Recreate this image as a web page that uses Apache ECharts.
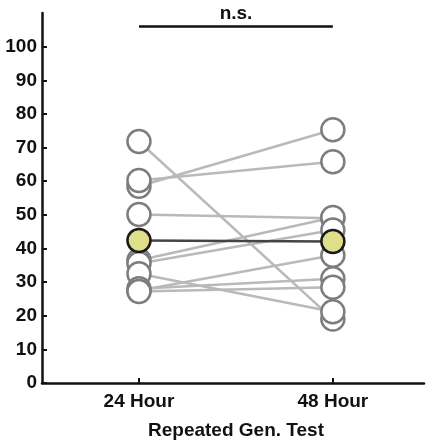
<!DOCTYPE html>
<html>
<head>
<meta charset="utf-8">
<script src="https://cdn.jsdelivr.net/npm/echarts@6/dist/echarts.min.js"></script>
<style>html,body{margin:0;padding:0;background:#fff;}#chart{width:427px;height:443px;}</style>
</head>
<body>
<div id="chart"></div>
<script>
const categories = ['24 Hour', '48 Hour'];
const hour24 = [71.8, 58.5, 60.2, 50.1, 36.5, 35.5, 32.5, 27.5, 28.0, 27.2];
const hour48 = [19.0, 75.3, 65.8, 49.0, 49.2, 45.5, 21.2, 38.0, 31.0, 28.5];
const meanValues = [42.4, 42.1];
const yTicks = [0, 10, 20, 30, 40, 50, 60, 70, 80, 90, 100];
const bracketValue = 106;
const bracketLabel = 'n.s.';
const xTitle = 'Repeated Gen. Test';

const FONT = '"Liberation Sans", Arial, sans-serif';
const series = [];
hour24.forEach((v, i) => {
  series.push({
    type: 'line', silent: true, showSymbol: false, symbol: 'none', z: 1,
    lineStyle: { color: '#b9b9b9', width: 2.5 },
    data: [[0, v], [1, hour48[i]]]
  });
});
const pts = [];
hour24.forEach(v => pts.push([0, v]));
hour48.forEach(v => pts.push([1, v]));
series.push({
  type: 'scatter', z: 3, symbol: 'circle', symbolSize: 23,
  itemStyle: { color: '#ffffff', borderColor: '#7d7d7d', borderWidth: 2.5, opacity: 1 },
  data: pts
});
series.push({
  type: 'line', z: 4, symbol: 'circle', symbolSize: 23, showSymbol: true,
  lineStyle: { color: '#444444', width: 2.5 },
  itemStyle: { color: '#dfdf8b', borderColor: '#1a1a1a', borderWidth: 2.5 },
  data: meanValues.map((v, i) => [i, v])
});
series.push({
  type: 'line', z: 2, symbol: 'none', silent: true,
  lineStyle: { color: '#111111', width: 2.5 },
  data: [[0, bracketValue], [1, bracketValue]]
});

const chart = echarts.init(document.getElementById('chart'), null, { renderer: 'canvas' });
chart.setOption({
  animation: false,
  backgroundColor: '#ffffff',
  grid: { left: 42, top: 13, width: 382, height: 370, containLabel: false },
  xAxis: {
    type: 'value', min: -0.5, max: 1.47,
    splitLine: { show: false },
    axisLine: { show: true, onZero: false, lineStyle: { color: '#111', width: 2.5 } },
    axisTick: { show: true, inside: true, length: 5, customValues: [0, 1], lineStyle: { color: '#111', width: 2 } },
    axisLabel: {
      customValues: [0, 1], margin: 9,
      formatter: v => categories[Math.round(v)],
      color: '#111', fontFamily: FONT, fontWeight: 'bold', fontSize: 19
    }
  },
  yAxis: {
    type: 'value', min: 0, max: 110,
    splitLine: { show: false },
    axisLine: { show: true, onZero: false, lineStyle: { color: '#111', width: 2.5 } },
    axisTick: { show: true, inside: true, length: 5, customValues: yTicks, lineStyle: { color: '#111', width: 2 } },
    axisLabel: {
      customValues: yTicks, margin: 5,
      color: '#111', fontFamily: FONT, fontWeight: 'bold', fontSize: 19
    }
  },
  graphic: [
    { type: 'text', style: { text: bracketLabel, fill: '#111', font: 'bold 19px ' + FONT, textAlign: 'center', textVerticalAlign: 'middle' }, x: 236, y: 14 },
    { type: 'text', style: { text: xTitle, fill: '#111', font: 'bold 19px ' + FONT, textAlign: 'center', textVerticalAlign: 'middle' }, x: 236, y: 431 }
  ],
  series: series
});
</script>
</body>
</html>
